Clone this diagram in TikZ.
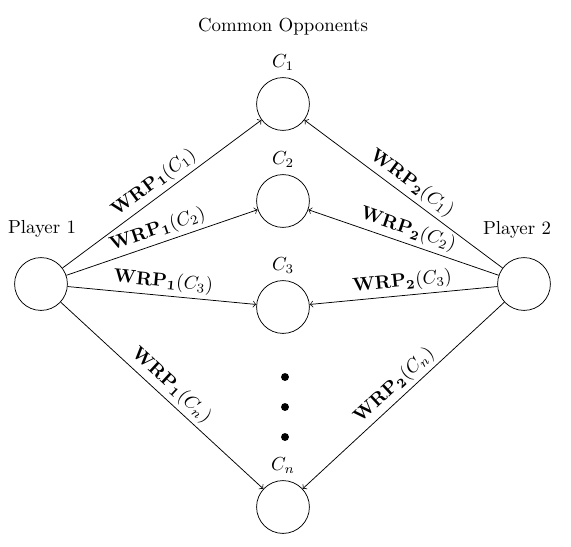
\documentclass[tikz,border=0pt]{standalone}
\usepackage{amsmath}
\begin{document}
\begin{tikzpicture}[x=0.53pt,y=-0.53pt,
  player/.style={circle,draw,minimum size=28pt,inner sep=0pt},
  opp/.style={circle,draw,minimum size=28pt,inner sep=0pt},
  edge/.style={->,draw},
  wrp/.style={midway,above,sloped,inner sep=2pt},
  dotmark/.style={circle,fill,inner sep=0pt,minimum size=4.2pt}]
\useasboundingbox (0,0) rectangle (571,546);
\node (title) at (283,27) {Common Opponents};
\node[player] (p1) at (41,284) {};
\node[player] (p2) at (524,284) {};
\node (p1l) at (42,229) {Player 1};
\node (p2l) at (517,230) {Player 2};
\node[opp,label={[label distance=0pt]above:$C_1$}] (c1) at (283,104) {};
\node[opp,label={[label distance=0pt]above:$C_2$}] (c2) at (283,201) {};
\node[opp,label={[label distance=0pt]above:$C_3$}] (c3) at (283,307) {};
\node[opp,label={[label distance=0pt]above:$C_n$}] (cn) at (283,507) {};
\node[dotmark] (d1) at (285,377) {};
\node[dotmark] (d2) at (285,407) {};
\node[dotmark] (d3) at (285,437) {};
\draw[edge] (p1) -- node[wrp]{$\mathbf{WRP_1}(C_1)$} (c1);
\draw[edge] (p1) -- node[wrp]{$\mathbf{WRP_1}(C_2)$} (c2);
\draw[edge] (p1) -- node[wrp]{$\mathbf{WRP_1}(C_3)$} (c3);
\draw[edge] (p1) -- node[wrp]{$\mathbf{WRP_1}(C_n)$} (cn);
\draw[edge] (p2) -- node[wrp]{$\mathbf{WRP_2}(C_1)$} (c1);
\draw[edge] (p2) -- node[wrp]{$\mathbf{WRP_2}(C_2)$} (c2);
\draw[edge] (p2) -- node[wrp]{$\mathbf{WRP_2}(C_3)$} (c3);
\draw[edge] (p2) -- node[wrp]{$\mathbf{WRP_2}(C_n)$} (cn);
\end{tikzpicture}
\end{document}
